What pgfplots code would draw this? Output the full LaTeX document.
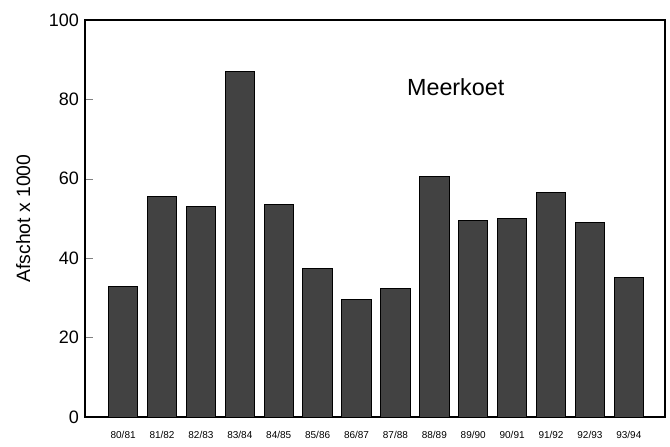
\documentclass[border=0pt]{standalone}
\usepackage{fontspec}
\setmainfont{Liberation Sans}
\usepackage{pgfplots}
\pgfplotsset{compat=1.18}
\begin{document}
\begin{tikzpicture}
	\begin{axis}[
			at={(63.75pt,21.75pt)}, anchor=south west,
			scale only axis,
			width=435pt, height=297.75pt,
			ybar, bar width=22pt,
			xmin=-0.98, xmax=13.93,
			ymin=0, ymax=100,
			ytick={0,20,40,60,80,100},
			xtick={0,...,13},
			xticklabels={80/81,81/82,82/83,83/84,84/85,85/86,86/87,87/88,88/89,89/90,90/91,91/92,92/93,93/94},
			x tick label style={font=\fontsize{7.5}{9}\selectfont, yshift=-7pt},
			y tick label style={font=\fontsize{13.5}{16}\selectfont, xshift=-1pt},
			/pgf/number format/assume math mode=true,
			major x tick style={draw=none},
			tick align=inside,
			ytick pos=left,
			major tick length=6pt,
			ylabel={Afschot x 1000},
			ylabel style={font=\fontsize{14.5}{17}\selectfont, yshift=7pt},
			axis line style={line width=0.8pt},
		]
		\addplot[fill=black!74, draw=black, line width=0.7pt] coordinates {
				(0,32.8) (1,55.6) (2,53) (3,87) (4,53.6) (5,37.4) (6,29.7)
				(7,32.3) (8,60.5) (9,49.6) (10,50) (11,56.6) (12,49) (13,35.2)
			};
		\node[font=\fontsize{17.5}{20}\selectfont] at (axis cs:8.55,83) {Meerkoet};
	\end{axis}
	\pgfresetboundingbox
	\useasboundingbox (0pt,0pt) rectangle (502.5pt,334.5pt);
\end{tikzpicture}
\end{document}
